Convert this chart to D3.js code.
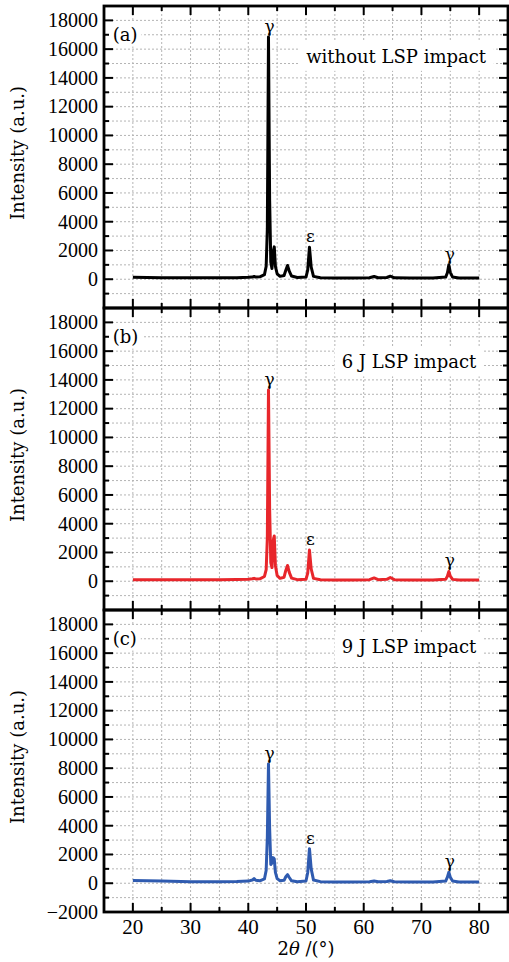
<!DOCTYPE html>
<html>
<head>
<meta charset="utf-8">
<script src="https://cdn.jsdelivr.net/npm/d3@7"></script>
<style>
  body { margin: 0; background: #fff; }
  svg { display: block; }
</style>
</head>
<body>
<svg id="chart"></svg>
<script>
// XRD patterns
const twoTheta = [20, 25, 30, 35, 38, 40, 40.7, 41, 41.3, 42, 42.8, 43.1, 43.3, 43.5, 43.7, 43.9, 44.1, 44.3, 44.5, 44.7,
  45.0, 45.5, 46.2, 46.5, 46.8, 47.1, 47.5, 48.5, 50.0, 50.3, 50.6, 50.9, 51.3, 52.5, 55, 58, 61, 61.8, 62.5, 64,
  64.6, 65.3, 68, 72, 74.2, 74.5, 74.75, 75.0, 75.4, 76.5, 80];

const intensityA = [130, 110, 100, 105, 110, 130, 150, 190, 150, 170, 320, 900, 3500, 16850, 5500, 1200, 750, 1900, 2250, 900,
  380, 200, 260, 620, 960, 560, 220, 120, 150, 650, 2230, 850, 200, 110, 90, 90, 100, 190, 100, 120,
  210, 100, 90, 90, 150, 450, 1000, 480, 150, 90, 90];

const intensityB = [100, 100, 95, 100, 120, 140, 170, 200, 160, 170, 330, 800, 3000, 13300, 5000, 1300, 950, 2800, 3150, 1100,
  400, 200, 280, 750, 1100, 620, 220, 110, 140, 560, 2170, 850, 200, 100, 90, 90, 110, 230, 110, 130,
  260, 110, 90, 90, 130, 350, 680, 350, 130, 90, 90];

const intensityC = [190, 150, 110, 110, 120, 150, 220, 330, 210, 170, 300, 900, 3200, 8300, 3800, 1300, 1400, 1780, 1700, 750,
  320, 170, 200, 450, 600, 400, 170, 110, 160, 750, 2400, 1000, 220, 110, 90, 90, 100, 150, 100, 120,
  170, 100, 90, 90, 150, 420, 770, 420, 150, 90, 90];

const panelTags = ["(a)", "(b)", "(c)"];
const conditions = ["without LSP impact", "6 J LSP impact", "9 J LSP impact"];
const peakSymbols = ["γ", "ε", "γ"];
const peakPositions = [43.5, 50.6, 74.75];

const xTickLabels = [20, 30, 40, 50, 60, 70, 80];
const yTickLabels = [0, 2000, 4000, 6000, 8000, 10000, 12000, 14000, 16000, 18000];

// layout
const WIDTH = 509, HEIGHT = 962;
const LEFT = 104, RIGHT = 508;
const PANEL_TOP = [6, 308, 610];
const PANEL_H = 302;
const COLORS = ["#000000", "#e8262b", "#2f5bb0"];
const condPos = [{x: 81.2, y: 15050}, {x: 79.5, y: 14800}, {x: 79.5, y: 16000}];

const series = [intensityA, intensityB, intensityC];

const svg = d3.select('#chart')
  .attr('width', WIDTH)
  .attr('height', HEIGHT);

svg.append('rect').attr('width', WIDTH).attr('height', HEIGHT).attr('fill', '#fff');

const x = d3.scaleLinear().domain([15, 85]).range([LEFT, RIGHT]);

const gridX = d3.range(20, 81, 5);
const gridY = d3.range(-1000, 19000, 1000);
const minorX = d3.range(15, 86, 5).filter(v => v % 10 !== 0);
const minorY = d3.range(-1000, 19000, 2000);
const majorY = d3.range(-2000, 19001, 2000);

const numFont = "'Liberation Serif', 'Times New Roman', serif";
const txtFont = "'DejaVu Serif', serif";

series.forEach((vals, i) => {
  const top = PANEL_TOP[i];
  const y = d3.scaleLinear().domain([-2000, 19000]).range([top + PANEL_H, top]);
  const g = svg.append('g');

  // grid
  g.selectAll('.gx').data(gridX).enter().append('line')
    .attr('x1', d => x(d)).attr('x2', d => x(d))
    .attr('y1', top).attr('y2', top + PANEL_H)
    .attr('stroke', '#b4b4b4').attr('stroke-width', 1).attr('stroke-dasharray', '2,2');
  g.selectAll('.gy').data(gridY).enter().append('line')
    .attr('x1', LEFT).attr('x2', RIGHT)
    .attr('y1', d => y(d)).attr('y2', d => y(d))
    .attr('stroke', '#b4b4b4').attr('stroke-width', 1).attr('stroke-dasharray', '2,2');

  // pattern
  const line = d3.line().x((d, k) => x(twoTheta[k])).y(d => y(d));
  g.append('path')
    .datum(vals)
    .attr('d', line)
    .attr('fill', 'none')
    .attr('stroke', COLORS[i])
    .attr('stroke-width', 3)
    .attr('stroke-linejoin', 'round');

  // peak symbols
  peakPositions.forEach((p, k) => {
    const idx = twoTheta.indexOf(p);
    g.append('text')
      .attr('x', x(p) + 1)
      .attr('y', y(vals[idx]) - 5)
      .attr('text-anchor', 'middle')
      .style('font-family', txtFont)
      .style('font-size', '17px')
      .text(peakSymbols[k]);
  });

  // panel tag with white box
  const tag = g.append('text')
    .attr('x', x(16.5)).attr('y', y(16600))
    .style('font-family', txtFont).style('font-size', '18px')
    .text(panelTags[i]);
  let bb = tag.node().getBBox();
  g.insert('rect', () => tag.node())
    .attr('x', bb.x - 4).attr('y', bb.y - 2).attr('width', bb.width + 8).attr('height', bb.height + 4)
    .attr('fill', '#fff');

  const cond = g.append('text')
    .attr('x', x(condPos[i].x)).attr('y', y(condPos[i].y))
    .attr('text-anchor', 'end')
    .style('font-family', txtFont).style('font-size', '18px')
    .text(conditions[i]);
  bb = cond.node().getBBox();
  g.insert('rect', () => cond.node())
    .attr('x', bb.x - 7).attr('y', bb.y - 4).attr('width', bb.width + 14).attr('height', bb.height + 8)
    .attr('fill', '#fff');

  // ticks (inward on all four sides)
  const tickStyle = sel => sel.attr('stroke', '#000').attr('stroke-width', 2);
  g.selectAll('.tb').data(xTickLabels.concat(minorX)).enter().append('line')
    .attr('x1', d => x(d)).attr('x2', d => x(d))
    .attr('y1', top + PANEL_H).attr('y2', d => top + PANEL_H - (d % 10 === 0 ? 9 : 5))
    .call(tickStyle);
  g.selectAll('.tt').data(xTickLabels.concat(minorX)).enter().append('line')
    .attr('x1', d => x(d)).attr('x2', d => x(d))
    .attr('y1', top).attr('y2', d => top + (d % 10 === 0 ? 9 : 5))
    .call(tickStyle);
  g.selectAll('.tl').data(majorY.concat(minorY)).enter().append('line')
    .attr('x1', LEFT).attr('x2', d => LEFT + (d % 2000 === 0 ? 9 : 5))
    .attr('y1', d => y(d)).attr('y2', d => y(d))
    .call(tickStyle);
  g.selectAll('.tr').data(majorY.concat(minorY)).enter().append('line')
    .attr('x1', RIGHT).attr('x2', d => RIGHT - (d % 2000 === 0 ? 9 : 5))
    .attr('y1', d => y(d)).attr('y2', d => y(d))
    .call(tickStyle);

  // frame
  g.append('rect')
    .attr('x', LEFT).attr('y', top).attr('width', RIGHT - LEFT).attr('height', PANEL_H)
    .attr('fill', 'none').attr('stroke', '#000').attr('stroke-width', 2.8);

  // y tick labels
  const yl = i === 2 ? [-2000].concat(yTickLabels) : yTickLabels;
  g.selectAll('.yl').data(yl).enter().append('text')
    .attr('x', LEFT - 6).attr('y', d => y(d))
    .attr('dy', '0.34em')
    .attr('text-anchor', 'end')
    .style('font-family', numFont).style('font-size', '20px')
    .text(d => d < 0 ? '\u2212' + Math.abs(d) : d);

  // y title
  g.append('text')
    .attr('transform', `translate(24, ${top + PANEL_H / 2 - 4}) rotate(-90)`)
    .attr('text-anchor', 'middle')
    .style('font-family', txtFont).style('font-size', '18px')
    .text('Intensity (a.u.)');
});

// x axis labels under the last panel
const bottom = PANEL_TOP[2] + PANEL_H;
svg.selectAll('.xl').data(xTickLabels).enter().append('text')
  .attr('x', d => x(d)).attr('y', bottom + 22)
  .attr('text-anchor', 'middle')
  .style('font-family', numFont).style('font-size', '21px')
  .text(d => d);

const xt = svg.append('text')
  .attr('x', (LEFT + RIGHT) / 2).attr('y', bottom + 43)
  .attr('text-anchor', 'middle')
  .style('font-family', txtFont).style('font-size', '18px');
xt.append('tspan').text('2');
xt.append('tspan').style('font-style', 'italic').text('θ');
xt.append('tspan').text(' /(°)');
</script>
</body>
</html>
